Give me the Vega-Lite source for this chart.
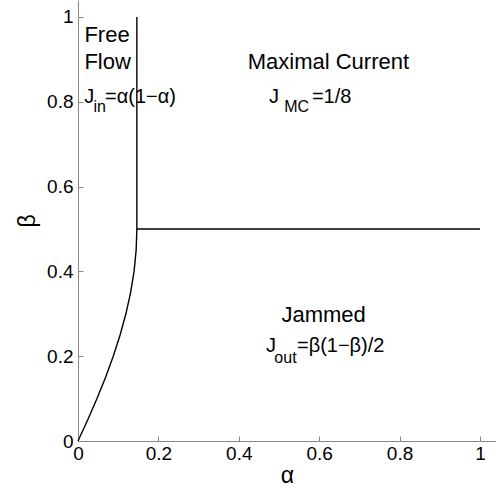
{
  "$schema": "https://vega.github.io/schema/vega-lite/v6.json",
  "description": "Phase diagram of the TASEP-like model: free flow, maximal current and jammed phases.",
  "width": 418,
  "height": 441,
  "autosize": {"type": "none"},
  "padding": {"left": 78, "top": 0, "right": 0, "bottom": 52},
  "datasets": {
    "boundary": [
      {"seg": "curve", "o": 0, "alpha": 0, "beta": 0},
      {"seg": "curve", "o": 1, "alpha": 0.02434, "beta": 0.05},
      {"seg": "curve", "o": 2, "alpha": 0.04723, "beta": 0.1},
      {"seg": "curve", "o": 3, "alpha": 0.06843, "beta": 0.15},
      {"seg": "curve", "o": 4, "alpha": 0.08769, "beta": 0.2},
      {"seg": "curve", "o": 5, "alpha": 0.10472, "beta": 0.25},
      {"seg": "curve", "o": 6, "alpha": 0.11921, "beta": 0.3},
      {"seg": "curve", "o": 7, "alpha": 0.13088, "beta": 0.35},
      {"seg": "curve", "o": 8, "alpha": 0.13945, "beta": 0.4},
      {"seg": "curve", "o": 9, "alpha": 0.14469, "beta": 0.45},
      {"seg": "curve", "o": 10, "alpha": 0.14645, "beta": 0.5},
      {"seg": "vertical", "o": 0, "alpha": 0.14645, "beta": 0.5},
      {"seg": "vertical", "o": 1, "alpha": 0.14645, "beta": 1},
      {"seg": "horizontal", "o": 0, "alpha": 0.14645, "beta": 0.5},
      {"seg": "horizontal", "o": 1, "alpha": 1, "beta": 0.5}
    ],
    "names_left": [
      {"alpha": 0.016, "beta": 0.942, "label": "Free"},
      {"alpha": 0.016, "beta": 0.878, "label": "Flow"}
    ],
    "names_center": [
      {"alpha": 0.623, "beta": 0.878, "label": "Maximal Current"},
      {"alpha": 0.611, "beta": 0.281, "label": "Jammed"}
    ],
    "formula": [
      {"alpha": 0.0155, "beta": 0.798, "label": "J"},
      {"alpha": 0.0672, "beta": 0.798, "label": "=α(1−α)"},
      {"alpha": 0.4755, "beta": 0.798, "label": "J"},
      {"alpha": 0.582, "beta": 0.798, "label": "=1/8"},
      {"alpha": 0.4675, "beta": 0.21, "label": "J"},
      {"alpha": 0.5448, "beta": 0.21, "label": "=β(1−β)/2"}
    ],
    "subscript": [
      {"alpha": 0.0385, "beta": 0.777, "label": "in"},
      {"alpha": 0.513, "beta": 0.777, "label": "MC"},
      {"alpha": 0.4885, "beta": 0.184, "label": "out"}
    ]
  },
  "encoding": {
    "x": {
      "field": "alpha",
      "type": "quantitative",
      "scale": {"domain": [0, 1.04], "nice": false, "zero": false},
      "axis": {
        "title": "α",
        "values": [0, 0.2, 0.4, 0.6, 0.8, 1],
        "format": "~g",
        "labelPadding": 8,
        "titlePadding": 1
      }
    },
    "y": {
      "field": "beta",
      "type": "quantitative",
      "scale": {"domain": [0, 1.04], "nice": false, "zero": false},
      "axis": {
        "title": "β",
        "values": [0, 0.2, 0.4, 0.6, 0.8, 1],
        "format": "~g",
        "labelPadding": 10,
        "titlePadding": 7
      }
    }
  },
  "layer": [
    {
      "data": {"name": "boundary"},
      "mark": {"type": "line", "color": "black", "strokeWidth": 1.4},
      "encoding": {
        "detail": {"field": "seg"},
        "order": {"field": "o"}
      }
    },
    {
      "data": {"name": "names_left"},
      "mark": {"type": "text", "align": "left", "baseline": "alphabetic", "fontSize": 22, "color": "black"},
      "encoding": {"text": {"field": "label"}}
    },
    {
      "data": {"name": "names_center"},
      "mark": {"type": "text", "align": "center", "baseline": "alphabetic", "fontSize": 22, "color": "black"},
      "encoding": {"text": {"field": "label"}}
    },
    {
      "data": {"name": "formula"},
      "mark": {"type": "text", "align": "left", "baseline": "alphabetic", "fontSize": 20, "color": "black"},
      "encoding": {"text": {"field": "label"}}
    },
    {
      "data": {"name": "subscript"},
      "mark": {"type": "text", "align": "left", "baseline": "alphabetic", "fontSize": 16, "color": "black"},
      "encoding": {"text": {"field": "label"}}
    }
  ],
  "config": {
    "view": {"stroke": null},
    "font": "Liberation Sans",
    "text": {"font": "Liberation Sans"},
    "axis": {
      "grid": false,
      "domainColor": "#888888",
      "tickColor": "#888888",
      "tickSize": -5,
      "labelFont": "Liberation Sans",
      "labelFontSize": 19,
      "labelColor": "black",
      "titleFont": "Liberation Sans",
      "titleFontSize": 23,
      "titleFontWeight": "normal",
      "titleColor": "black",
      "labelFlush": false,
      "labelOverlap": false
    }
  }
}
